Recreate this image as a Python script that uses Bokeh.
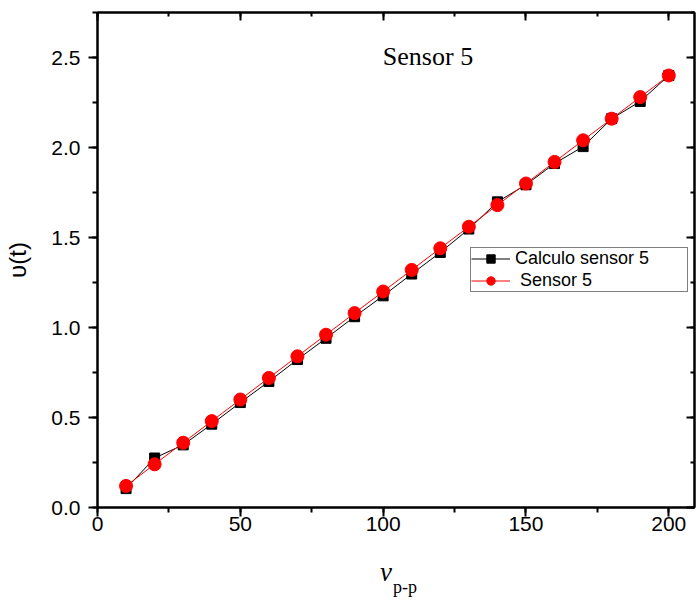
from bokeh.plotting import figure
from bokeh.models import (Range1d, LinearAxis, SingleIntervalTicker, Legend,
                          LegendItem, Label, ColumnDataSource, PrintfTickFormatter)
from bokeh.embed import file_html
from bokeh.resources import INLINE

x_vals = [10, 20, 30, 40, 50, 60, 70, 80, 90, 100,
          110, 120, 130, 140, 150, 160, 170, 180, 190, 200]
calc_vals = [0.105, 0.275, 0.348, 0.463, 0.583, 0.70, 0.822, 0.94, 1.06, 1.176,
             1.297, 1.417, 1.547, 1.698, 1.793, 1.911, 2.005, 2.16, 2.256, 2.40]
sensor_vals = [0.12, 0.24, 0.36, 0.48, 0.60, 0.72, 0.84, 0.96, 1.08, 1.20,
               1.32, 1.44, 1.56, 1.68, 1.80, 1.92, 2.04, 2.16, 2.28, 2.40]
series_names = ["Calculo sensor 5", " Sensor 5"]
title_text = "Sensor 5"
y_label = "\u03c5(t)"
x_label_main = "v"
x_label_sub = "p-p"

NB = "\u00a0"
src = ColumnDataSource(dict(x=x_vals, calc=calc_vals, sensor=sensor_vals))

p = figure(width=698, height=602, output_backend="svg", toolbar_location=None,
           x_range=Range1d(0, 209), y_range=Range1d(0, 2.75),
           min_border_left=97, min_border_right=4, min_border_top=12,
           min_border_bottom=95, background_fill_color="white",
           border_fill_color="white")
p.grid.visible = False
p.outline_line_color = "black"
p.outline_line_width = 2

xt = SingleIntervalTicker(interval=50, num_minor_ticks=2)
yt = SingleIntervalTicker(interval=0.5, num_minor_ticks=2)

FONT = "Liberation Sans"
SERIF = "Liberation Serif"

xa = p.xaxis[0]
xa.ticker = xt
ya = p.yaxis[0]
ya.ticker = yt
ya.formatter = PrintfTickFormatter(format="%.1f")

for ax in (xa, ya):
    ax.axis_line_width = 2
    ax.major_tick_line_width = 2
    ax.minor_tick_line_width = 2
    ax.major_tick_out = 9
    ax.major_tick_in = 0
    ax.minor_tick_out = 5
    ax.minor_tick_in = 0
    ax.major_label_text_font = FONT
    ax.major_label_text_font_size = "21px"
    ax.major_label_text_color = "black"
    ax.axis_line_color = "black"
    ax.major_tick_line_color = "black"
    ax.minor_tick_line_color = "black"

xa.major_label_standoff = 0
xa.axis_label = x_label_main + NB * 3
xa.axis_label_text_font = SERIF
xa.axis_label_text_font_style = "italic"
xa.axis_label_text_font_size = "27px"
xa.axis_label_text_color = "black"
xa.axis_label_standoff = 23

ya.major_label_standoff = 8
ya.axis_label = y_label
ya.axis_label_text_font = FONT
ya.axis_label_text_font_size = "24px"
ya.axis_label_text_font_style = "normal"
ya.axis_label_text_color = "black"
ya.axis_label_standoff = 17

# subscript of the x label, as the label of a bare second bottom axis
sub_ax = LinearAxis(ticker=xt)
sub_ax.axis_line_color = None
sub_ax.major_tick_line_color = None
sub_ax.minor_tick_line_color = None
sub_ax.major_tick_out = 0
sub_ax.minor_tick_out = 0
sub_ax.major_tick_in = 0
sub_ax.minor_tick_in = 0
sub_ax.major_label_text_font_size = "0px"
sub_ax.major_label_standoff = 0
sub_ax.axis_label = NB * 4 + x_label_sub
sub_ax.axis_label_text_font = SERIF
sub_ax.axis_label_text_font_style = "normal"
sub_ax.axis_label_text_font_size = "18px"
sub_ax.axis_label_text_color = "black"
sub_ax.axis_label_standoff = -13
p.add_layout(sub_ax, "below")

for loc, tk in (("above", xt), ("right", yt)):
    ax = LinearAxis(ticker=tk)
    ax.axis_line_width = 2
    ax.major_tick_line_width = 2
    ax.minor_tick_line_width = 2
    ax.major_tick_in = 8
    ax.major_tick_out = 0
    ax.minor_tick_in = 4
    ax.minor_tick_out = 0
    ax.major_label_text_font_size = "0px"
    ax.major_label_standoff = 0
    p.add_layout(ax, loc)

# series
l1 = p.line("x", "calc", source=src, line_color="black", line_width=1)
m1 = p.scatter("x", "calc", source=src, marker="square", size=10,
               fill_color="black", line_color="black")
l2 = p.line("x", "sensor", source=src, line_color="red", line_width=1)
m2 = p.scatter("x", "sensor", source=src, marker="circle", size=13,
               fill_color="red", line_color="red")

legend = Legend(items=[LegendItem(label=series_names[0], renderers=[l1, m1]),
                       LegendItem(label=series_names[1], renderers=[l2, m2])],
                location=(373, 215), padding=0, margin=0, spacing=1,
                glyph_width=39, glyph_height=21, label_height=21,
                label_width=172, label_standoff=5,
                label_text_font=FONT, label_text_font_size="18px",
                label_text_color="black", border_line_color="black",
                border_line_width=1, background_fill_color="white",
                background_fill_alpha=1.0)
p.add_layout(legend)

p.add_layout(Label(x=115.7, y=2.508, text=title_text, text_align="center",
                   text_baseline="alphabetic", text_font=SERIF,
                   text_font_size="26px", text_color="black"))

open("out.html", "w").write(file_html(p, INLINE))
